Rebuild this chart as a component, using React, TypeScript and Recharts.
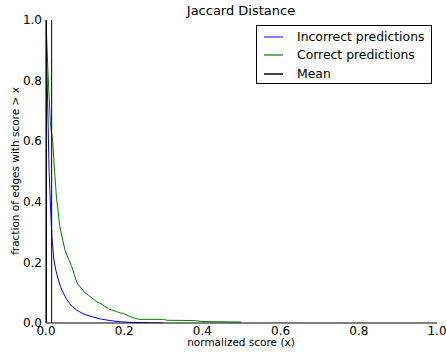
import React from 'react';
import { LineChart, Line, XAxis, YAxis, ReferenceLine } from 'recharts';

const incorrectX = [0, 0.002, 0.005, 0.008, 0.011, 0.015, 0.02, 0.025, 0.03, 0.037, 0.044, 0.052, 0.06, 0.068, 0.078, 0.09, 0.1, 0.117, 0.14, 0.164, 0.19, 0.22, 0.26, 0.3];
const incorrectY = [1.0, 0.86, 0.68, 0.5, 0.4, 0.285, 0.21, 0.175, 0.15, 0.12, 0.1, 0.08, 0.065, 0.054, 0.043, 0.034, 0.028, 0.021, 0.013, 0.008, 0.004, 0.002, 0.001, 0.0];

const correctX = [0, 0.005, 0.01, 0.012, 0.017, 0.022, 0.027, 0.031, 0.034, 0.04, 0.0486, 0.058, 0.066, 0.072, 0.08, 0.09, 0.1, 0.108, 0.12, 0.13, 0.142, 0.15, 0.16, 0.168, 0.18, 0.19, 0.198, 0.21, 0.22, 0.228, 0.24, 0.3, 0.31, 0.38, 0.4, 0.45, 0.5];
const correctY = [1.0, 0.83, 0.69, 0.65, 0.6, 0.5, 0.41, 0.37, 0.33, 0.29, 0.24, 0.21, 0.186, 0.16, 0.131, 0.115, 0.1, 0.092, 0.08, 0.07, 0.063, 0.055, 0.047, 0.043, 0.038, 0.033, 0.032, 0.024, 0.019, 0.015, 0.012, 0.012, 0.009, 0.008, 0.005, 0.004, 0.003];

const meanValues = [0.001, 0.0145];

const axisTicks = [0, 0.2, 0.4, 0.6, 0.8, 1.0];

const seriesNames = ['Incorrect predictions', 'Correct predictions', 'Mean'];
const seriesColors = ['#0000ff', '#008000', '#000000'];
const legendSampleColors = ['#8080ff', '#66b366', '#404040'];

const incorrectData = incorrectX.map((x, i) => ({ x, y: incorrectY[i] }));
const correctData = correctX.map((x, i) => ({ x, y: correctY[i] }));

const FONT = '"DejaVu Sans", sans-serif';
const fmt = (v: number) => v.toFixed(1);

export default function App() {
  return (
    <div style={{ position: 'absolute', left: 0, top: 0, width: 446, height: 352, background: '#fff', fontFamily: FONT }}>
      <LineChart width={446} height={352} data={correctData} margin={{ top: 20, right: 9, bottom: 0, left: 0 }}>
        <XAxis xAxisId="main" dataKey="x" type="number" domain={[0, 1]} ticks={axisTicks} tickFormatter={fmt}
          height={29} tickLine={false} tickSize={0} tickMargin={3}
          axisLine={{ stroke: '#000' }} tick={{ fill: '#000', fontSize: 12, fontFamily: FONT }} allowDataOverflow />
        <XAxis xAxisId="bin" dataKey="x" type="number" domain={[0, 1]} ticks={axisTicks} orientation="bottom" mirror
          tick={false} axisLine={false} tickSize={4} tickLine={{ stroke: '#000' }} height={0} allowDataOverflow />
        <XAxis xAxisId="top" dataKey="x" type="number" domain={[0, 1]} ticks={axisTicks} orientation="top" mirror
          tick={false} axisLine={{ stroke: '#000' }} tickSize={4} tickLine={{ stroke: '#000' }} height={0} allowDataOverflow />
        <YAxis yAxisId="main" type="number" domain={[0, 1]} ticks={axisTicks} tickFormatter={fmt}
          width={46} tickLine={false} tickSize={0} tickMargin={4}
          axisLine={{ stroke: '#000' }} tick={{ fill: '#000', fontSize: 12, fontFamily: FONT }} allowDataOverflow />
        <YAxis yAxisId="lin" type="number" domain={[0, 1]} ticks={axisTicks} orientation="left" mirror
          tick={false} axisLine={false} tickSize={4} tickLine={{ stroke: '#000' }} width={0} allowDataOverflow />
        <YAxis yAxisId="right" type="number" domain={[0, 1]} ticks={axisTicks} orientation="right" mirror
          tick={false} axisLine={{ stroke: '#000' }} tickSize={4} tickLine={{ stroke: '#000' }} width={0} allowDataOverflow />
        <Line xAxisId="main" yAxisId="main" data={incorrectData} dataKey="y" stroke={seriesColors[0]} strokeWidth={1}
          dot={false} isAnimationActive={false} type="linear" />
        <Line xAxisId="main" yAxisId="main" data={correctData} dataKey="y" stroke={seriesColors[1]} strokeWidth={1}
          dot={false} isAnimationActive={false} type="linear" />
        {meanValues.map((m, i) => (
          <ReferenceLine key={i} xAxisId="main" yAxisId="main" x={m} stroke={seriesColors[2]} strokeWidth={1} ifOverflow="visible" />
        ))}
      </LineChart>
      <div style={{ position: 'absolute', left: 141, width: 200, top: 3, textAlign: 'center', fontSize: 13, color: '#000', lineHeight: '15px' }}>
        Jaccard Distance
      </div>
      <div style={{ position: 'absolute', left: 141, width: 200, top: 337, textAlign: 'center', fontSize: 10.5, color: '#000', lineHeight: '11px' }}>
        normalized score (x)
      </div>
      <div style={{ position: 'absolute', left: 15, top: 171, width: 0, height: 0 }}>
        <div style={{ position: 'absolute', left: -150, top: -6, width: 300, textAlign: 'center', fontSize: 10.5, lineHeight: '12px', color: '#000', transform: 'rotate(-90deg)' }}>
          fraction of edges with score &gt; x
        </div>
      </div>
      <div style={{ position: 'absolute', left: 256, top: 25, width: 174, height: 57, border: '1px solid #000', background: '#fff' }}>
        {seriesNames.map((name, i) => (
          <div key={'s' + name} style={{ position: 'absolute', left: 7, top: [10, 28, 47][i], width: 19, height: 0, borderTop: `2px solid ${legendSampleColors[i]}` }} />
        ))}
        {seriesNames.map((name, i) => (
          <div key={name} style={{ position: 'absolute', left: 40, top: [2, 20, 39][i], fontSize: 12.4, lineHeight: '17px', color: '#000', whiteSpace: 'nowrap' }}>{name}</div>
        ))}
      </div>
    </div>
  );
}
